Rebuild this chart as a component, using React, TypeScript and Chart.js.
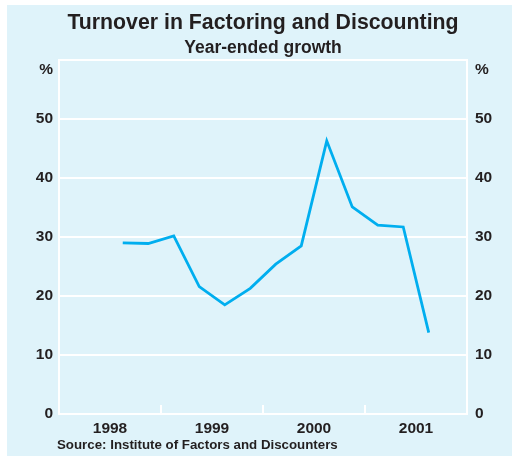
import React, { useEffect, useRef } from "react";
import { Chart, registerables } from "chart.js";

Chart.register(...registerables);

const TITLE = "Turnover in Factoring and Discounting";
const SUBTITLE = "Year-ended growth";
const SOURCE = "Source: Institute of Factors and Discounters";

// Quarterly observations (mid-quarter positions)
const periods = [
  "1998 Q3", "1998 Q4",
  "1999 Q1", "1999 Q2", "1999 Q3", "1999 Q4",
  "2000 Q1", "2000 Q2", "2000 Q3", "2000 Q4",
  "2001 Q1", "2001 Q2", "2001 Q3",
];
const growth = [29.0, 28.9, 30.2, 21.6, 18.5, 21.3, 25.4, 28.5, 46.3, 35.1, 32.0, 31.7, 13.8];
const yearLabels = [1998, 1999, 2000, 2001];
const yTicks = [0, 10, 20, 30, 40, 50];
const percentPos = 58.3;

const FONT = "'Liberation Sans', Arial, Helvetica, sans-serif";
const TEXT = "#231f20";
const BG = "#dff3fa";
const LINE = "#00aeef";

function periodToX(p: string): number {
  const [y, q] = p.split(" Q");
  return Number(y) + (Number(q) - 0.5) / 4;
}

export default function App() {
  const ref = useRef<HTMLCanvasElement | null>(null);

  useEffect(() => {
    if (!ref.current) return;
    const decor = {
      id: "decor",
      afterDraw(chart: any) {
        const { ctx, chartArea } = chart;
        const xs = chart.scales.x;
        ctx.save();
        ctx.strokeStyle = "#ffffff";
        ctx.lineWidth = 2;
        ctx.strokeRect(chartArea.left, chartArea.top, chartArea.right - chartArea.left, chartArea.bottom - chartArea.top);
        // year boundary tick marks (inside)
        for (let i = 1; i < yearLabels.length; i++) {
          const px = xs.getPixelForValue(yearLabels[i]);
          ctx.beginPath();
          ctx.moveTo(px, chartArea.bottom);
          ctx.lineTo(px, chartArea.bottom - 9);
          ctx.stroke();
        }
        ctx.fillStyle = TEXT;
        ctx.textAlign = "center";
        ctx.textBaseline = "alphabetic";
        ctx.font = `bold 21.3px ${FONT}`;
        ctx.fillText(TITLE, 256, 24);
        ctx.font = `bold 17.5px ${FONT}`;
        ctx.fillText(SUBTITLE, 256, 47.5);
        ctx.textAlign = "left";
        ctx.font = `bold 13.3px ${FONT}`;
        ctx.fillText(SOURCE, 50, 444.3);
        ctx.restore();
      },
    };

    const yCommon = (side: "left" | "right") => ({
      type: "linear" as const,
      position: side,
      min: 0,
      max: 60,
      afterBuildTicks: (axis: any) => {
        axis.ticks = [...yTicks, percentPos].map((v) => ({ value: v }));
      },
      afterFit: (scale: any) => {
        scale.width = side === "left" ? 52 : 45;
      },
      grid: {
        display: side === "left",
        drawOnChartArea: side === "left",
        drawTicks: false,
        color: (c: any) => (c.tick && c.tick.value > 55 ? "rgba(0,0,0,0)" : "#ffffff"),
        lineWidth: 2,
      },
      border: { display: false },
      ticks: {
        padding: side === "left" ? 6 : 8,
        color: TEXT,
        font: { family: FONT, size: 15.5, weight: "bold" as const },
        callback: (v: any) => (v > 55 ? "%" : String(v)),
      },
    });

    const chart = new Chart(ref.current, {
      type: "line",
      data: {
        datasets: [
          {
            data: periods.map((p, i) => ({ x: periodToX(p), y: growth[i] })),
            borderColor: LINE,
            borderWidth: 2.8,
            pointRadius: 0,
            tension: 0,
            fill: false,
          },
        ],
      },
      options: {
        responsive: false,
        animation: false,
        layout: { padding: { top: 55, bottom: 0, left: 0, right: 0 } },
        plugins: { legend: { display: false }, tooltip: { enabled: false }, title: { display: false } },
        scales: {
          x: {
            type: "linear",
            min: yearLabels[0],
            max: yearLabels[yearLabels.length - 1] + 1,
            afterBuildTicks: (axis: any) => {
              axis.ticks = yearLabels.map((y) => ({ value: y + 0.5 }));
            },
            afterFit: (scale: any) => {
              scale.height = 42;
            },
            grid: { display: false, drawTicks: false },
            border: { display: false },
            ticks: {
              padding: 5,
              maxRotation: 0,
              color: TEXT,
              font: { family: FONT, size: 15.5, weight: "bold" },
              callback: (v: any) => String(Math.floor(v)),
            },
          },
          y: yCommon("left"),
          y2: yCommon("right"),
        },
      },
      plugins: [decor],
    });
    return () => chart.destroy();
  }, []);

  return (
    <div style={{ position: "fixed", left: 7, top: 5, width: 505, height: 451, background: BG }}>
      <canvas ref={ref} width={505} height={451} style={{ display: "block" }} />
    </div>
  );
}
